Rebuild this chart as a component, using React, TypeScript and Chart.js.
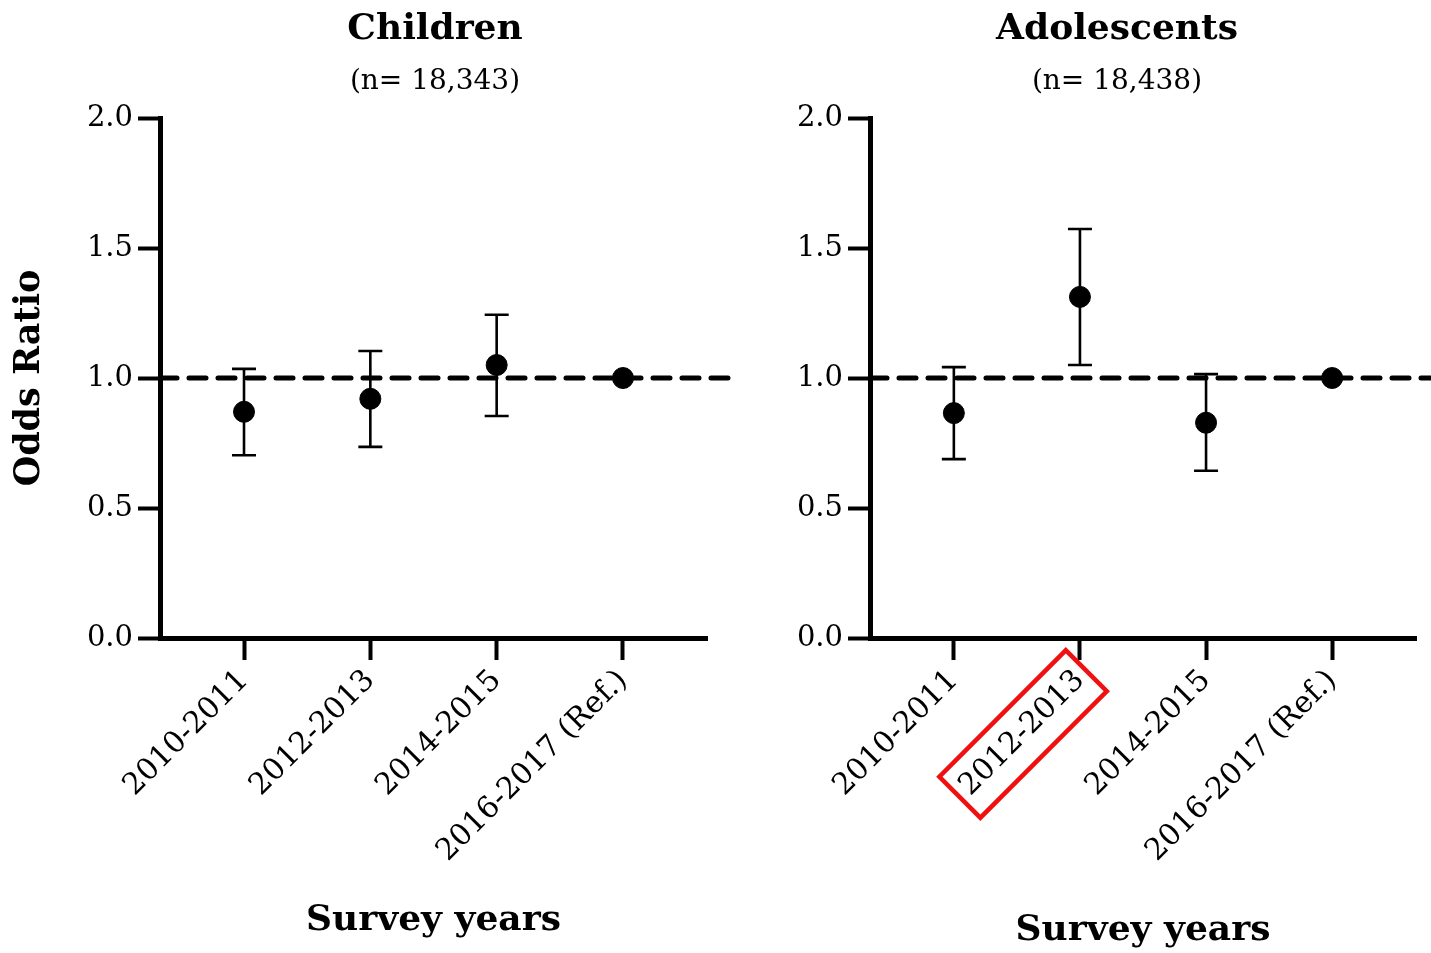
import { useEffect, useRef } from "react";
import { Chart, registerables } from "chart.js";

Chart.register(...registerables);

// ---------- data ----------
const categories = ["2010-2011", "2012-2013", "2014-2015", "2016-2017 (Ref.)"];
const categoryPositions = [0, 1, 2, 3];
const yTickValues = [0, 0.5, 1.0, 1.5, 2.0];
const referenceOR = 1.0;

const childrenOR = [0.87, 0.92, 1.05, 1.0];
const childrenLow = [0.703, 0.735, 0.854, null];
const childrenHigh = [1.035, 1.104, 1.243, null];

const adolescentsOR = [0.865, 1.312, 0.828, 1.0];
const adolescentsLow = [0.688, 1.05, 0.643, null];
const adolescentsHigh = [1.042, 1.573, 1.015, null];

const highlightedAdolescentCategory = "2012-2013";

// ---------- styling ----------
const FONT = "'DejaVu Serif', 'Liberation Serif', serif";
const X_MIN = -0.665;
const X_MAX = 3.665;
const H = 953;

type Spec = {
  title: string;
  subtitle: string;
  titleCenter: number;
  or: number[];
  low: (number | null)[];
  high: (number | null)[];
  refLineEnd: number;
  yAxisWidth: number;
  padRight: number;
  xTitlePadBottom: number;
  showYTitle: boolean;
  highlight: string | null;
};

function titlePlugin(title: string, subtitle: string, cx: number) {
  return {
    id: "panelTitles",
    afterDraw(chart: any) {
      const { ctx } = chart;
      ctx.save();
      ctx.fillStyle = "#000";
      ctx.textAlign = "center";
      ctx.textBaseline = "middle";
      ctx.font = `bold 36px ${FONT}`;
      ctx.fillText(title, cx, 30);
      ctx.font = `28px ${FONT}`;
      ctx.fillText(subtitle, cx, 82);
      ctx.restore();
    },
  };
}

function errorBarPlugin(low: (number | null)[], high: (number | null)[]) {
  return {
    id: "errorBars",
    afterDatasetsDraw(chart: any) {
      const { ctx } = chart;
      const xs = chart.scales.x;
      const ys = chart.scales.y;
      ctx.save();
      ctx.strokeStyle = "#000";
      ctx.lineWidth = 2.6;
      low.forEach((lo, i) => {
        const hi = high[i];
        if (lo == null || hi == null) return;
        const px = xs.getPixelForValue(categoryPositions[i]);
        const pl = ys.getPixelForValue(lo);
        const ph = ys.getPixelForValue(hi);
        ctx.beginPath();
        ctx.moveTo(px, pl);
        ctx.lineTo(px, ph);
        ctx.moveTo(px - 12, pl);
        ctx.lineTo(px + 12, pl);
        ctx.moveTo(px - 12, ph);
        ctx.lineTo(px + 12, ph);
        ctx.stroke();
      });
      ctx.restore();
    },
  };
}

function highlightPlugin(label: string | null) {
  return {
    id: "highlightLabel",
    afterDraw(chart: any) {
      if (!label) return;
      const xs = chart.scales.x;
      const items = xs.getLabelItems();
      const item = items.find((it: any) => it.label === label);
      if (!item) return;
      const { ctx } = chart;
      ctx.save();
      ctx.font = item.font.string;
      const w = ctx.measureText(label).width;
      const [tx, ty] = item.options.translation;
      ctx.translate(tx, ty);
      ctx.rotate(item.options.rotation);
      ctx.strokeStyle = "#f01010";
      ctx.lineWidth = 4.5;
      const padX = 8;
      const h = 58;
      ctx.strokeRect(-w - padX, item.textOffset - h / 2 + 1, w + 2 * padX, h);
      ctx.restore();
    },
  };
}

function buildConfig(spec: Spec): any {
  const gridOpts = {
    drawOnChartArea: false,
    drawTicks: true,
    tickLength: 22,
    tickWidth: 4,
    tickColor: "#000",
    color: "#000",
  };
  const borderOpts = { display: true, color: "#000", width: 5 };
  return {
    type: "scatter",
    data: {
      datasets: [
        {
          data: spec.or.map((v, i) => ({ x: categoryPositions[i], y: v })),
          backgroundColor: "#000",
          borderColor: "#000",
          pointRadius: 10.5,
          pointHoverRadius: 10.5,
        },
        {
          data: [
            { x: X_MIN, y: referenceOR },
            { x: spec.refLineEnd, y: referenceOR },
          ],
          showLine: true,
          borderColor: "#000",
          borderWidth: 5,
          borderDash: [17, 12],
          borderCapStyle: "round",
          pointRadius: 0,
          pointHoverRadius: 0,
          clip: false,
        },
      ],
    },
    options: {
      responsive: false,
      maintainAspectRatio: false,
      animation: false,
      events: [],
      layout: { padding: { left: 0, right: spec.padRight, top: 118, bottom: 0 } },
      plugins: {
        legend: { display: false },
        tooltip: { enabled: false },
        title: { display: false },
        subtitle: { display: false },
      },
      scales: {
        x: {
          type: "linear",
          min: X_MIN,
          max: X_MAX,
          afterBuildTicks: (s: any) => {
            s.ticks = categoryPositions.map((v) => ({ value: v }));
          },
          afterFit: (s: any) => {
            s.height = H - 638;
          },
          ticks: {
            callback: (_v: any, i: number) => categories[i],
            minRotation: 45,
            maxRotation: 45,
            autoSkip: false,
            color: "#000",
            font: { family: FONT, size: 30 },
            padding: 3,
          },
          grid: gridOpts,
          border: borderOpts,
          title: {
            display: true,
            text: "Survey years",
            color: "#000",
            font: { family: FONT, size: 36, weight: "bold", lineHeight: 1.2 },
            padding: { top: 0, bottom: spec.xTitlePadBottom },
          },
        },
        y: {
          type: "linear",
          min: 0,
          max: 2,
          afterBuildTicks: (s: any) => {
            s.ticks = yTickValues.map((v) => ({ value: v }));
          },
          afterFit: (s: any) => {
            s.width = spec.yAxisWidth;
          },
          ticks: {
            callback: (v: any) => Number(v).toFixed(1),
            color: "#000",
            font: { family: FONT, size: 29 },
            padding: 5,
          },
          grid: gridOpts,
          border: borderOpts,
          title: {
            display: spec.showYTitle,
            text: "Odds Ratio",
            color: "#000",
            font: { family: FONT, size: 35, weight: "bold", lineHeight: 1.2 },
            padding: { top: 9, bottom: 0 },
          },
        },
      },
    },
    plugins: [
      errorBarPlugin(spec.low, spec.high),
      highlightPlugin(spec.highlight),
      titlePlugin(spec.title, spec.subtitle, spec.titleCenter),
    ],
  };
}

const childrenSpec: Spec = {
  title: "Children",
  subtitle: "(n= 18,343)",
  titleCenter: 435,
  or: childrenOR,
  low: childrenLow,
  high: childrenHigh,
  refLineEnd: 3.845,
  yAxisWidth: 160,
  padRight: 163,
  xTitlePadBottom: 10.4,
  showYTitle: true,
  highlight: null,
};

const adolescentsSpec: Spec = {
  title: "Adolescents",
  subtitle: "(n= 18,438)",
  titleCenter: 337,
  or: adolescentsOR,
  low: adolescentsLow,
  high: adolescentsHigh,
  refLineEnd: 3.95,
  yAxisWidth: 90,
  padRight: 38,
  xTitlePadBottom: 0.4,
  showYTitle: false,
  highlight: highlightedAdolescentCategory,
};

function Panel({ spec, left, width }: { spec: Spec; left: number; width: number }) {
  const ref = useRef<HTMLCanvasElement>(null);
  useEffect(() => {
    const chart = new Chart(ref.current as HTMLCanvasElement, buildConfig(spec));
    return () => chart.destroy();
  }, [spec]);
  return (
    <canvas
      ref={ref}
      width={width}
      height={H}
      style={{ position: "absolute", left, top: 0, width, height: H }}
    />
  );
}

export default function App() {
  return (
    <div
      style={{
        position: "fixed",
        left: 0,
        top: 0,
        width: 1431,
        height: H,
        overflow: "hidden",
        background: "#fff",
      }}
    >
      <Panel spec={childrenSpec} left={0} width={870} />
      <Panel spec={adolescentsSpec} left={780} width={674} />
    </div>
  );
}
